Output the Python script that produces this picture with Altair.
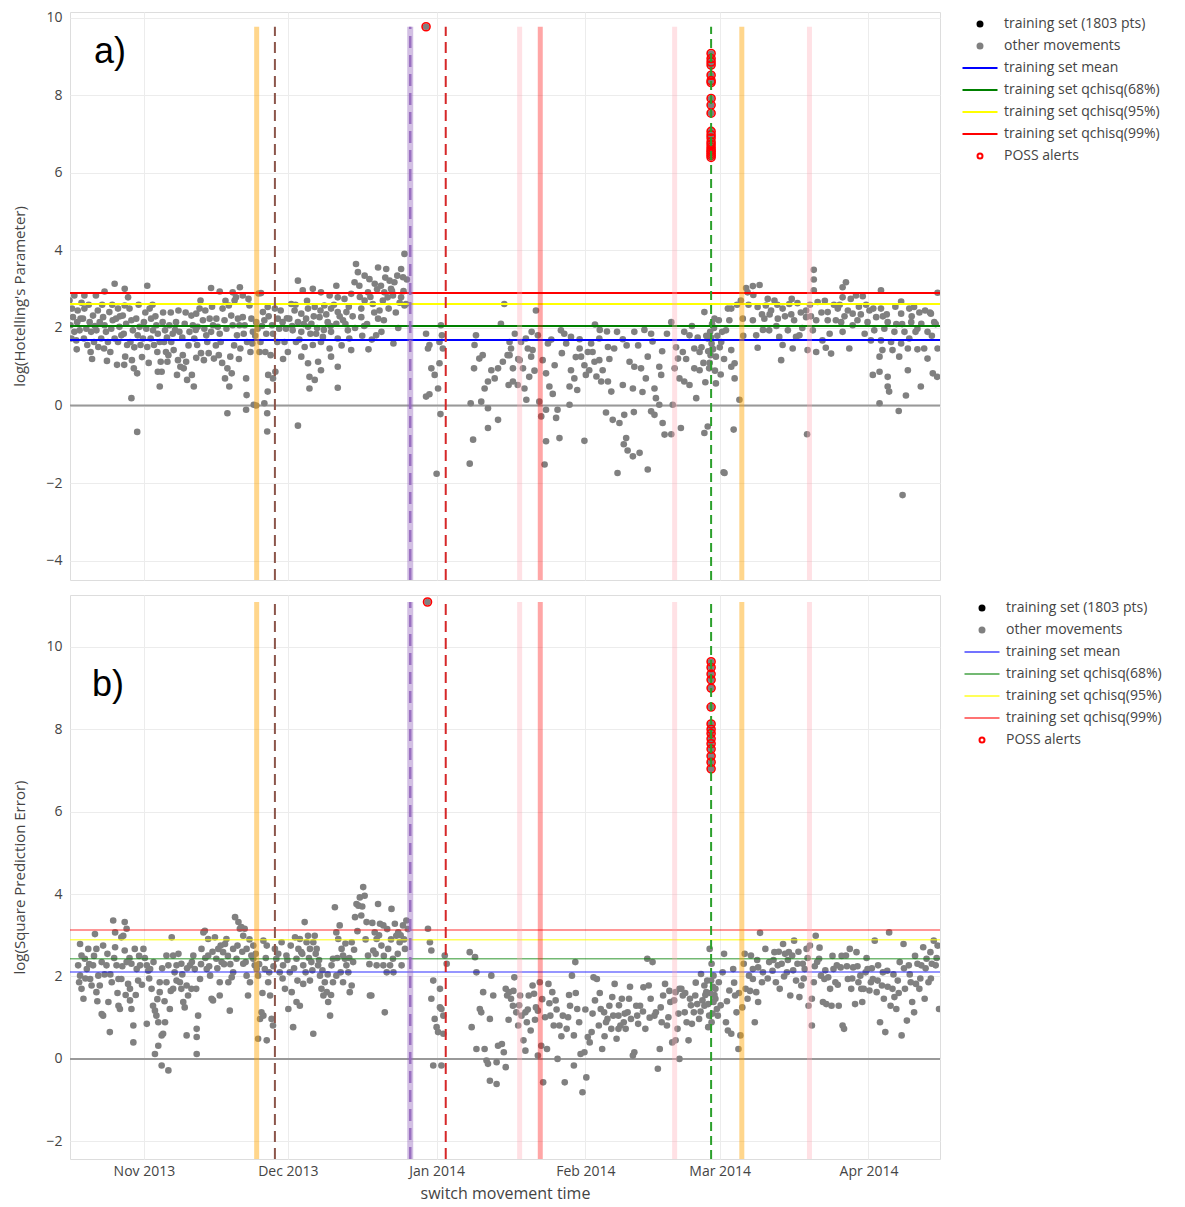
import altair as alt
import pandas as pd

BASE = pd.Timestamp("2013-10-16")
X_START_DAY, X_END_DAY = 0.6, 181.9

SERIES = ["training set (1803 pts)", "other movements", "training set mean",
          "training set qchisq(68%)", "training set qchisq(95%)",
          "training set qchisq(99%)", "POSS alerts"]
THR_SERIES = SERIES[2:6]

# threshold levels (log scale)
a_thr_values = [1.69, 2.05, 2.62, 2.90]
b_thr_values = [2.11, 2.43, 2.89, 3.13]

# event markers (days after 2013-10-16)
ev_orange = [39.5, 140.6]
ev_brown = [43.3]
ev_purple = [71.5]
ev_red = [78.9]
ev_pink = [94.3, 126.6, 154.7]
ev_salmon = [98.6]
ev_green = [134.2]

# POSS alerts (day, value)
a_alerts = [(74.8, 9.77)] + [(134.2, v) for v in
            [9.08, 8.95, 8.86, 8.78, 8.52, 8.38, 8.33, 7.92, 7.75, 7.54, 7.07,
             6.98, 6.90, 6.80, 6.73, 6.66, 6.60, 6.55, 6.50, 6.45, 6.40]]
b_alerts = [(75.1, 11.09)] + [(134.2, v) for v in
            [9.64, 9.50, 9.34, 9.20, 9.00, 8.54, 8.13, 8.00, 7.90, 7.77, 7.65,
             7.52, 7.35, 7.20, 7.04]]

# ---- panel a: log(Hotelling's parameter), (day, value) ----
a_pts_1 = [(0.5,2.71),(1.0,2.50),(1.2,2.28),(0.7,2.07),(1.5,1.90),(0.9,1.73),(2.2,2.45),(2.1,2.15),(2.6,1.94),(1.9,1.68),
(2.8,2.24),(3.6,2.50),(3.3,2.24),(4.0,1.98),(3.5,1.73),(4.2,1.56),(4.7,2.15),(5.4,2.32),(5.0,1.90),(5.6,1.64),
(4.9,1.38),(6.4,2.45),(6.8,2.15),(6.1,1.94),(7.1,1.73),(6.5,1.51),(7.5,2.28),(7.8,2.07),(8.1,1.90),(8.5,1.64),
(7.7,1.47),(8.8,2.41),(9.5,2.20),(9.2,1.98),(9.9,1.73),(9.0,1.38),(10.6,2.50),(10.2,2.24),(10.9,2.03),(11.3,1.81),
(10.6,1.64),(12.0,2.58),(11.6,2.32),(12.3,2.11),(11.8,1.85),(12.5,1.56),(12.1,1.26),(13.0,2.50),(13.4,2.20),(13.7,1.94),
(13.2,1.64),(13.5,1.17),(13.9,0.96),(14.4,2.24),(15.1,2.03),(14.7,1.81),(15.3,1.56),(14.6,0.83),(16.0,2.15),(16.5,1.98),
(15.8,1.73),(16.7,1.51),(17.2,2.50),(17.5,2.24),(17.9,1.94),(17.4,1.73),(18.1,1.56),(18.6,2.07),(18.9,1.85),(19.3,1.64),
(18.8,1.38),(19.5,1.13),(18.9,0.87),(19.3,0.49),(19.9,2.15),(20.4,1.94),(20.2,1.64),(20.6,1.38),(20.9,1.13),(19.7,0.87),
(21.3,2.07),(22.0,1.85),(21.7,1.64),(22.2,1.43),(21.1,1.30),(22.7,2.15),(23.4,1.90),(23.1,1.17),(23.6,1.00),(22.9,0.79),
(24.5,2.11),(24.1,1.30),(24.8,1.13),(25.0,0.66),(24.3,0.96),(25.9,2.32),(26.2,2.07),(25.5,1.90),(26.0,0.79),(26.4,0.49),
(26.5,1.73),(26.9,2.37),(27.6,2.50),(27.2,2.03),(27.1,1.56),(26.9,1.23),(28.3,2.20),(28.6,1.98),(29.0,1.81),(28.5,1.17),
(29.2,1.64),(29.7,2.24),(30.4,2.07),(30.0,1.90),(30.6,1.21),(31.1,2.24),(31.4,2.03),(31.8,1.85),(31.6,1.30),(32.0,1.64),
(32.4,2.50),(32.8,2.20),(33.2,1.98),(33.4,0.96),(32.9,0.70),(33.4,-0.20),(33.7,2.58),(34.2,2.32),(34.5,2.07),(34.0,1.26),
(34.3,0.83),(33.8,0.49),(35.2,2.79),(35.6,2.24),(35.9,2.07),(36.1,1.47),(35.4,1.81),(36.6,2.28),(37.0,2.07),(37.5,1.64),
(37.3,0.70),(37.4,0.27),(37.3,-0.11),(38.0,2.58),(38.4,2.24),(38.7,1.90),(38.2,1.38),(38.9,0.02),(39.4,2.15),(39.7,1.98),
(40.3,1.64),(40.1,1.38),(39.9,2.89),(40.8,2.41),(41.1,2.20),(41.5,1.85),(41.3,1.38),(41.1,0.06),(41.7,-0.20),(41.8,2.54),
(42.7,2.07),(42.4,1.30),(41.9,0.79),(41.8,0.36),(42.9,0.70),(43.3,2.50),(43.9,2.24),(44.2,1.98),(43.8,1.64),(43.4,0.87),
(44.9,2.15),(45.6,1.98),(45.3,1.64),(46.0,1.38),(9.9,3.14),(16.7,3.09),(12.0,3.01),(7.8,2.94),(6.0,2.84),(3.6,2.84),
(1.5,2.84),(12.7,2.79),(30.0,3.03),(31.8,2.94),(36.0,3.05),(34.5,2.92),(40.4,2.90),(36.6,2.84),(27.8,2.71),(34.9,2.71),
(13.4,0.19),(14.6,-0.68),(39.4,0.00),(41.7,-0.67),
(2.0,1.45),(3.0,2.65),(4.5,2.60),(5.2,1.20),(5.8,2.05),(7.3,2.60),(8.3,1.15),(9.4,2.60),(10.4,1.05),(11.0,2.30),
(11.9,1.05),(14.0,1.50),(14.9,2.60),(15.6,1.25),(16.3,2.40),(17.0,1.10),(17.8,2.60),(18.4,2.30),(20.0,2.40),(20.8,1.75),
(21.6,2.40),(22.5,1.95),(23.2,2.45),(24.0,1.75),(24.7,2.40),(25.3,1.55),(26.8,1.95),(27.9,1.35),(28.8,2.45),(29.5,1.35),
(30.2,2.55),(31.0,1.55),(32.3,1.10),(33.0,2.70),(34.8,1.55),(35.8,1.20),(36.8,1.85),(37.8,2.75),(38.6,1.60),(39.2,1.80),
(40.6,2.05),(42.0,2.30),(42.9,1.85),(44.5,2.45),(45.0,1.20),(45.8,2.25)]

a_pts_2 = [(70.3,3.91),(60.2,3.65),(64.8,3.56),(66.5,3.52),(60.6,3.44),(62.0,3.35),(63.0,3.26),(59.9,3.18),(60.9,3.09),(64.1,3.14),
(65.4,3.09),(67.2,3.22),(68.2,3.18),(69.6,3.52),(70.0,3.31),(67.5,3.01),(59.2,2.88),(62.7,2.92),(66.8,2.79),(62.0,2.71),
(63.7,2.62),(61.3,2.50),(65.1,2.45),(64.8,2.24),(70.3,2.58),(69.6,2.79),(61.3,2.28),(65.8,2.71),(67.9,2.84),(66.1,2.92),
(48.1,3.22),(49.1,2.97),(51.2,3.01),(52.9,2.92),(56.1,3.09),(54.7,2.84),(56.4,2.79),(57.8,2.75),(46.7,2.62),(47.4,2.45),
(48.8,2.37),(50.2,2.50),(51.6,2.54),(53.6,2.58),(55.0,2.50),(56.4,2.41),(58.2,2.41),(46.3,2.24),(48.1,2.15),(49.8,2.24),
(50.9,2.11),(52.6,2.28),(54.3,2.15),(56.1,2.11),(57.5,2.20),(58.5,1.94),(58.8,1.73),(47.0,1.94),(48.8,1.90),(50.2,2.03),
(51.9,1.85),(53.3,1.77),(55.0,1.90),(56.4,1.73),(47.7,1.64),(49.5,1.51),(51.2,1.56),(52.9,1.64),(54.7,1.47),(59.2,1.43),
(48.8,1.26),(50.2,1.09),(52.3,1.13),(52.9,0.91),(55.0,1.26),(56.4,1.00),(50.5,0.74),(51.6,0.66),(50.5,0.44),(56.4,0.46),
(48.1,-0.52),(64.4,1.81),(60.0,2.00),(61.5,1.80),(62.5,2.10),(63.5,1.70),(66.0,2.20),(68.5,2.40),(69.0,2.00),(68.0,1.60),
(65.5,1.90),(62.8,1.45),(70.6,2.62),
(46.9,2.05),(47.6,2.60),(48.4,1.70),(49.3,2.10),(50.0,2.70),(50.7,1.85),(51.4,2.30),(52.1,2.00),(52.8,2.45),(53.5,1.95),
(54.0,2.35),(54.9,2.05),(55.6,2.60),(56.8,2.30),(57.2,1.55),(58.0,2.10),(58.7,2.55),(59.5,2.30),(61.0,2.80),(61.9,2.05),
(63.2,2.80),(64.0,2.40),(64.6,3.00),(66.3,3.30),(67.0,2.50),(67.7,2.95),(68.8,3.35),(69.3,2.65),(70.1,2.95),(70.8,3.25),
(74.8,1.85),(75.5,1.56),(75.2,1.47),(75.9,0.96),(76.6,0.79),(77.6,1.09),(77.9,2.07),(78.1,1.81),(77.6,1.64),(78.3,1.47),
(77.3,0.44),(74.8,0.23),(75.5,0.29),(77.8,-0.22),(85.2,1.81),(84.9,1.56),(85.9,1.21),(84.8,0.96),(86.6,1.30),(87.7,0.62),
(88.4,0.91),(89.8,0.96),(90.4,2.11),(91.1,2.62),(90.8,1.13),(91.8,1.30),(89.1,0.70),(87.0,0.44),(86.3,0.10),(84.1,0.06),
(87.7,-0.07),(89.8,-0.37),(87.7,-0.58),(92.0,0.53),(77.0,-1.76),(83.9,-1.50),(84.6,-0.88)]

a_pts_3 = [(97.7,2.45),(125.9,2.15),(110.0,2.09),(102.9,1.94),(103.6,1.85),(105.0,1.77),(106.8,1.71),(112.5,1.91),(118.2,1.90),(121.7,1.85),
(115.8,1.71),(110.9,1.73),(112.7,1.51),(114.0,1.47),(106.8,1.47),(108.5,1.38),(109.5,1.38),(100.2,1.60),(98.1,1.81),(95.6,1.73),
(96.0,1.47),(96.7,1.26),(92.5,1.47),(92.2,1.30),(92.9,0.96),(95.0,0.96),(93.9,0.53),(95.7,0.15),(96.3,0.74),(99.1,1.17),
(99.8,0.83),(100.5,0.49),(101.6,1.04),(105.0,0.91),(105.7,0.70),(104.7,0.49),(104.7,0.02),(107.1,1.26),(107.8,1.04),(108.8,0.91),
(108.1,0.79),(109.9,1.13),(110.9,1.17),(111.6,0.91),(112.7,0.62),(111.3,0.62),(113.4,0.36),(115.8,0.53),(117.9,0.44),(117.2,1.13),
(118.2,1.00),(119.6,0.96),(121.0,1.26),(120.6,0.70),(122.4,0.44),(123.4,1.00),(123.8,0.79),(122.7,0.19),(123.4,0.02),(126.6,0.96),
(127.3,1.21),(128.3,1.38),(127.6,0.70),(128.6,0.62),(129.7,0.53),(128.6,1.90),(129.7,1.81),(130.7,1.47),(131.8,1.38),(130.7,0.96),
(131.8,0.91),(131.1,0.19),(126.2,0.02),(127.9,-0.58),(124.5,-0.75),(125.9,-0.74),(122.4,-0.24),(121.7,-0.15),(124.1,-0.45),(115.1,-0.45),
(116.1,-0.24),(112.3,-0.18),(113.7,-0.37),(118.1,-0.17),(116.5,-0.84),(116.0,-1.00),(116.8,-1.16),(117.9,-1.31),(119.3,-1.22),(114.7,-1.74),
(121.0,-1.65),(107.8,-0.91),(102.6,-0.84),(101.9,-0.32),(102.2,-0.11),(99.8,-0.92),(99.5,-1.52),(98.8,-0.28),(98.4,0.10),(99.8,-0.11),
(132.8,-0.71),(133.5,-0.54),(137.0,-1.74),(133.5,1.73),(132.8,2.41),(134.9,2.24),(134.5,1.47),(135.2,1.26),(136.3,1.64),(137.3,1.94),
(137.7,2.50),(135.2,0.57),(133.8,0.96),(94.6,1.64),(97.0,1.43),(94.3,1.17),(95.3,0.44),(92.9,0.62),(92.2,1.64),
(134.0,1.90),(134.3,1.60),(134.1,1.30),(133.9,1.10),(134.4,2.10),(134.2,1.75),(134.6,1.45),(134.8,2.00),(135.5,1.80),(135.8,2.20),
(136.0,1.50),(136.5,1.90),(136.9,1.20),(133.6,1.40),(133.2,1.80),(132.6,1.10),(135.0,0.90),(136.2,0.80),
(93.3,1.85),(94.0,1.20),(96.8,1.90),(97.4,0.90),(100.9,1.70),(101.2,0.30),(103.1,1.35),(104.0,1.60),(106.0,1.25),(106.3,0.40),
(109.2,1.60),(110.3,0.75),(111.0,1.95),(113.0,1.20),(114.6,1.90),(116.6,1.55),(119.0,1.55),(119.9,0.35),(120.3,1.95),(122.0,1.65),
(124.0,1.40),(125.0,1.85),(126.9,1.50),(129.0,1.20),(130.2,2.05),(131.4,1.75),(132.2,1.50),(133.0,0.60)]

a_pts_4 = [(155.6,3.50),(155.6,3.25),(155.6,2.97),(162.3,3.18),(161.6,3.05),(144.3,3.11),(142.9,3.08),(141.5,3.03),(141.8,2.92),(140.4,2.71),
(169.6,2.97),(173.8,2.68),(181.4,2.91),(161.6,2.79),(164.4,2.84),(165.8,2.82),(147.4,2.71),(150.5,2.62),(152.2,2.64),(156.4,2.67),
(143.9,2.54),(145.6,2.58),(146.7,2.45),(149.1,2.50),(154.0,2.45),(158.5,2.41),(160.6,2.50),(162.7,2.45),(163.7,2.37),(169.6,2.50),
(175.5,2.50),(176.5,2.54),(180.0,2.37),(142.9,2.20),(145.3,2.24),(148.1,2.24),(151.5,2.20),(154.0,2.28),(156.1,2.20),(158.5,2.20),
(161.3,2.15),(164.7,2.20),(166.8,2.15),(168.6,2.28),(171.0,2.15),(173.8,2.37),(175.9,2.15),(178.0,2.11),(180.7,2.15),(138.4,2.50),
(138.0,2.20),(140.8,2.24),(146.3,1.94),(150.2,1.94),(152.6,1.81),(155.4,1.94),(161.6,1.90),(163.7,2.07),(168.2,1.94),(170.3,1.98),
(172.4,1.90),(174.5,1.90),(177.2,1.98),(179.3,1.90),(143.6,1.81),(148.4,1.77),(151.9,1.77),(157.4,1.68),(167.5,1.68),(169.6,1.68),
(171.7,1.64),(173.8,1.60),(175.5,1.73),(149.1,1.56),(151.2,1.47),(154.3,1.43),(156.1,1.38),(158.1,1.49),(159.2,1.34),(163.0,1.47),
(169.9,1.43),(172.0,1.43),(175.2,1.47),(177.2,1.45),(178.6,1.47),(181.4,1.47),(143.9,1.49),(138.4,1.43),(148.8,1.17),(169.3,1.26),
(173.4,1.26),(179.3,1.21),(139.1,1.09),(138.4,1.00),(139.1,0.70),(167.9,0.79),(169.3,0.87),(171.0,0.74),(171.0,0.49),(171.3,0.36),
(175.2,0.91),(177.9,0.49),(180.4,0.83),(181.3,0.74),(169.3,0.06),(174.8,0.26),(173.3,-0.14),(140.1,0.15),(138.9,-0.62),(154.2,-0.74),
(174.1,-2.31),(136.8,-1.72),
(142.0,2.60),(144.8,2.35),(146.0,2.75),(147.8,2.05),(149.6,2.30),(151.0,2.75),(153.2,2.00),(154.8,2.60),(157.2,2.40),(158.9,1.85),
(159.8,2.60),(162.0,2.30),(165.0,2.55),(166.2,1.85),(167.2,2.45),(170.8,2.35),(172.8,2.10),(176.0,2.30),(178.8,2.45),(180.2,1.80),
(139.6,2.60),(140.9,1.80),(143.0,2.85),(145.0,1.95),(146.4,2.35),(148.0,2.60),(150.9,2.35),(152.9,2.40),(155.0,2.30),(157.9,2.70),
(160.2,2.20),(161.0,2.60),(163.3,2.75),(165.4,2.35),(166.5,2.60),(168.0,2.50),(170.0,2.30),(172.6,2.55),(174.0,2.10),(176.8,1.90),
(177.6,2.40),(179.8,2.40),(181.0,2.10)]

# ---- panel b: log(Square Prediction Error), (day, value) ----
b_pts_1 = [(2.7,2.79),(3.0,2.51),(2.3,2.27),(2.7,2.02),(2.5,1.86),(3.0,1.70),(3.4,1.46),(3.7,2.43),(4.1,2.18),(4.4,2.67),
(4.8,1.94),(5.1,1.78),(5.4,2.27),(5.8,3.03),(6.1,2.67),(6.5,2.02),(6.8,1.78),(6.1,1.62),(7.2,2.35),(7.5,2.75),
(7.2,1.09),(8.2,2.27),(8.9,0.65),(9.6,3.36),(10.0,2.71),(10.3,2.27),(10.7,1.29),(11.0,1.21),(11.3,2.95),(11.7,2.99),
(12.0,2.63),(12.4,2.35),(12.7,1.82),(13.1,1.70),(13.4,1.21),(13.8,0.40),(13.8,0.81),(12.4,3.16),(12.0,3.32),(13.4,2.31),
(10.0,3.07),(10.7,1.94),(9.3,1.86),(8.6,1.38),(7.5,1.05),(11.3,1.94),(13.1,1.42),(14.1,2.67),(14.5,2.18),(14.8,1.90),
(15.2,2.27),(15.9,2.67),(16.6,2.27),(16.6,0.85),(16.9,2.14),(17.3,2.18),(17.6,1.70),(17.9,1.29),(18.3,1.17),(18.6,1.05),
(19.0,0.89),(19.3,1.62),(19.7,0.57),(20.0,0.61),(20.4,0.89),(20.7,2.51),(21.1,2.27),(19.7,-0.16),(21.1,-0.28),(18.3,0.12),
(19.0,0.32),(19.3,1.86),(20.7,1.86),(21.4,1.21),(21.8,2.95),(22.1,2.51),(22.8,2.27),(23.5,1.86),(23.8,2.31),(24.2,1.38),
(24.5,1.25),(24.9,0.57),(25.2,1.54),(25.6,2.27),(25.9,1.70),(26.3,2.51),(26.6,2.18),(27.0,0.73),(27.3,1.05),(27.7,1.94),
(27.0,0.12),(27.0,0.53),(24.9,1.78),(23.8,1.70),(22.8,1.90),(22.1,1.70),(28.0,2.67),(28.4,3.07),(28.7,3.11),(29.1,2.18),
(29.4,2.91),(29.8,2.02),(30.1,1.46),(30.4,1.42),(30.8,2.95),(31.1,2.43),(31.5,2.67),(31.8,1.86),(32.2,2.35),(32.5,2.59),
(32.9,2.79),(33.2,2.91),(33.9,1.17),(33.6,1.86),(34.3,1.98),(34.6,2.67),(34.6,2.10),(31.8,1.54),(29.4,2.51),(35.0,3.44),
(35.7,3.32),(36.0,3.16),(36.3,3.20),(36.7,2.99),(37.0,3.16),(37.4,2.67),(37.7,1.54),(38.1,1.86),(38.4,2.51),(38.8,2.75),
(39.1,2.27),(39.5,2.18),(39.8,2.02),(37.4,2.02),(35.3,2.43),(38.8,2.43),(36.7,2.31),(39.8,0.49),(40.2,0.97),(40.5,1.13),
(40.9,2.87),(41.2,2.18),(41.6,2.75),(41.9,1.86),(42.3,1.54),(42.6,0.97),(42.9,0.81),(41.6,0.45),(40.9,1.05),(43.3,2.67),
(43.6,2.43),(44.3,2.10),(44.7,2.83),(45.0,2.27),(45.4,1.70),(45.7,2.51),(46.1,1.21),(46.4,2.10),(47.1,0.77),(46.8,1.62),
(3.8,1.95),(4.6,2.30),(5.6,2.50),(6.3,1.40),(7.8,2.05),(8.4,2.55),(9.0,2.05),(9.8,2.45),(10.5,1.60),(11.5,2.25),
(12.2,1.55),(13.0,2.45),(14.3,1.55),(15.0,2.50),(15.6,1.80),(16.2,2.45),(17.1,1.95),(18.0,2.35),(18.8,1.45),(19.8,2.20),
(20.3,1.40),(21.6,1.65),(22.4,2.10),(23.2,2.55),(24.0,2.05),(25.0,2.20),(26.0,2.35),(26.9,1.70),(27.9,2.30),(28.8,2.45),
(29.6,2.25),(30.3,2.60),(31.3,2.20),(32.0,2.75),(32.7,2.30),(33.5,2.50),(34.0,2.30),(35.5,2.75),(36.5,2.60),(37.2,2.35),
(38.0,2.90),(39.3,2.55),(40.0,2.30),(40.7,1.60),(41.4,2.45),(42.1,2.10),(43.0,2.25),(44.0,2.55),(44.9,1.95),(45.9,2.40)]

b_pts_2 = [(47.5,2.95),(47.8,2.43),(48.2,2.67),(48.5,2.91),(48.8,2.59),(49.2,2.27),(49.5,3.32),(49.9,2.83),(50.2,2.99),(50.6,2.67),
(50.9,2.35),(51.3,2.83),(51.6,2.99),(52.0,2.67),(52.3,2.27),(52.7,2.02),(53.0,1.70),(53.4,1.54),(53.7,1.86),(54.1,1.62),
(54.4,1.38),(54.8,1.05),(55.1,2.27),(55.4,2.43),(51.3,0.61),(50.6,1.90),(49.2,1.82),(48.5,1.29),(47.8,1.38),(55.8,3.68),
(56.1,3.07),(56.5,2.91),(56.8,3.24),(57.2,2.67),(57.5,2.51),(57.9,2.43),(58.2,2.27),(58.6,2.10),(58.9,1.62),(59.3,2.83),
(59.6,2.35),(60.0,3.44),(60.3,3.76),(60.7,3.72),(61.0,3.92),(61.3,3.48),(61.7,4.17),(62.0,3.96),(62.4,3.32),(59.3,1.78),
(57.5,1.86),(56.1,2.02),(55.4,1.86),(62.7,2.51),(63.1,1.54),(63.4,1.54),(63.8,2.63),(64.1,3.07),(64.5,2.91),(64.8,3.76),
(65.2,3.28),(65.5,2.75),(65.9,2.27),(66.2,1.13),(66.6,2.10),(66.9,2.67),(67.3,2.27),(67.6,3.64),(67.9,2.43),(68.3,3.28),
(68.6,2.99),(69.0,3.07),(69.3,2.83),(69.7,2.27),(70.0,3.24),(70.4,2.67),(70.7,3.36),(64.5,2.27),(65.9,3.24),
(46.6,2.75),(47.3,2.20),(48.0,1.90),(49.0,2.55),(49.7,2.10),(50.4,2.45),(51.1,2.15),(51.8,2.55),(52.5,2.40),(53.2,2.15),
(54.3,2.05),(55.0,1.55),(56.3,2.45),(57.0,2.10),(58.0,2.80),(58.8,2.45),(59.8,2.65),(60.5,3.10),(61.5,3.70),(62.2,2.90),
(63.0,2.30),(63.6,3.30),(64.3,2.55),(65.0,3.00),(66.0,2.50),(66.7,3.15),(67.5,2.90),(68.0,2.10),(68.9,2.55),(69.5,3.00),
(70.2,2.90),(71.0,3.15),
(75.2,3.16),(75.6,2.83),(75.9,2.63),(76.3,1.90),(75.9,1.46),(76.6,0.97),(77.0,0.77),(77.3,0.65),(77.7,1.70),(78.0,1.21),
(78.4,0.61),(78.7,2.51),(79.1,2.31),(76.3,-0.16),(78.0,-0.16),(78.4,1.05),(77.7,1.25),(83.9,2.59),(84.3,0.77),(85.0,2.47),
(85.3,2.10),(86.0,1.21),(86.3,1.13),(86.7,1.62),(87.0,0.24),(87.4,-0.04),(87.7,-0.12),(88.1,0.97),(88.4,2.02),(88.8,1.54),
(89.5,-0.08),(89.8,0.32),(88.1,-0.53),(89.5,-0.61),(85.3,0.24)]

b_pts_3 = [(90.6,0.36),(91.4,-0.20),(91.0,0.16),(91.4,1.70),(91.7,1.54),(92.1,1.62),(92.5,1.46),(92.9,1.29),(93.2,1.98),(93.6,1.13),
(94.0,0.81),(94.4,1.54),(94.7,1.05),(95.1,0.45),(95.5,0.20),(95.8,0.89),(96.2,1.54),(96.6,0.69),(97.0,1.78),(97.3,1.58),
(97.7,1.25),(98.1,0.08),(98.5,1.86),(98.8,0.32),(99.2,-0.57),(99.6,1.01),(100.0,0.24),(100.3,1.82),(100.7,1.05),(101.1,1.62),
(101.4,0.81),(101.8,1.42),(102.2,0.00),(98.1,1.17),(95.5,1.13),(103.3,1.05),(103.7,-0.57),(104.4,1.01),(105.2,2.02),(105.6,-0.16),
(105.9,2.35),(106.3,1.21),(106.7,0.89),(107.0,0.12),(107.4,-0.81),(107.8,0.16),(108.2,-0.45),(104.8,1.29),(105.6,0.57),(102.6,0.81),
(104.1,0.73),(108.5,0.53),(108.9,0.40),(109.3,0.65),(109.7,1.98),(110.0,1.42),(110.4,1.94),(110.8,0.81),(111.2,1.21),(111.5,0.24),
(111.9,1.13),(112.3,0.89),(112.6,0.97),(113.0,1.29),(113.4,0.73),(113.8,1.05),(114.1,1.82),(114.5,0.49),(114.9,1.05),(115.3,0.81),
(115.6,1.46),(116.0,0.89),(116.4,0.73),(116.8,1.13),(117.1,1.46),(117.5,0.97),(117.9,0.08),(118.2,0.16),(118.6,1.29),(119.0,0.85),
(114.9,0.73),(119.4,1.29),(120.1,1.74),(120.5,0.73),(120.9,2.43),(121.2,1.78),(121.6,1.46),(122.0,2.35),(122.4,1.05),(122.7,1.13),
(123.1,-0.24),(123.5,0.24),(123.9,0.89),(124.2,1.54),(124.6,1.82),(125.0,0.81),(125.3,1.01),(125.7,1.38),(126.1,0.40),(126.5,1.42),
(126.8,1.62),(127.2,0.73),(127.6,0.00),(126.8,0.45),(127.6,1.70),(128.0,1.70),(128.3,1.54),(128.7,1.13),(129.1,0.89),(129.5,0.45),
(129.8,1.46),(130.2,0.85),(130.6,1.13),(130.9,1.54),(131.3,1.33),(131.7,0.97),(132.1,2.06),(132.4,1.42),(132.8,1.78),(133.2,1.62),
(133.6,1.33),(133.9,2.67),(134.3,2.31),(134.7,2.02),(135.1,1.46),(135.4,1.21),(135.8,1.86),(133.6,0.77),(134.3,0.89),(134.7,1.38),
(135.1,1.70),(132.8,1.29),(134.0,1.60),(134.5,1.10),(134.2,1.90),(134.9,1.55),(133.8,1.05),(134.6,1.75),(135.6,1.05),(136.2,1.30),
(136.6,2.10),(133.4,1.90),
(92.0,0.95),(93.0,1.65),(94.2,1.30),(96.0,1.20),(97.5,0.95),(99.0,1.45),(100.5,1.35),(102.0,1.20),(103.0,0.55),(104.6,1.55),
(106.0,1.60),(108.0,1.20),(109.5,1.10),(111.0,1.60),(112.0,0.55),(113.6,1.50),(115.0,1.30),(116.2,1.10),(117.3,1.75),(118.8,1.05),
(120.0,1.15),(121.4,1.00),(123.7,1.25),(125.5,1.65),(127.4,1.10),(128.8,1.60),(130.0,1.30),(131.0,1.85),(132.0,1.15),(133.0,1.55)]

b_pts_4 = [(136.9,2.55),(137.3,0.89),(137.7,0.69),(138.0,1.66),(138.4,0.61),(138.8,2.18),(139.2,1.54),(139.5,1.13),(139.9,0.24),(140.3,0.57),
(140.7,1.25),(141.0,2.31),(141.4,1.70),(141.8,1.46),(142.1,2.02),(142.5,2.51),(142.9,2.18),(143.3,0.89),(143.6,1.62),(144.0,1.38),
(144.4,3.06),(144.8,1.86),(144.0,2.22),(142.9,1.94),(145.5,2.67),(146.3,2.35),(147.0,2.14),(147.4,2.59),(147.7,1.86),(148.1,2.27),
(148.5,1.70),(148.9,2.31),(149.2,2.79),(149.6,2.55),(150.0,2.10),(150.4,2.59),(150.7,1.54),(151.1,2.51),(151.5,2.87),(151.9,1.90),
(152.2,2.31),(152.6,1.50),(153.0,1.78),(153.3,2.31),(153.7,2.18),(154.1,2.67),(154.5,1.29),(154.8,2.75),(155.2,0.81),(155.6,1.86),
(156.0,2.99),(156.3,2.35),(156.7,2.43),(157.1,2.02),(157.5,1.38),(157.8,1.94),(158.2,1.33),(155.2,1.46),(158.6,1.98),(159.0,1.70),
(159.3,1.29),(159.7,2.18),(160.1,1.86),(160.4,2.27),(160.8,1.29),(161.2,2.22),(161.6,0.81),(161.9,0.73),(162.3,2.51),(162.7,1.94),
(163.1,2.67),(163.4,1.70),(163.8,2.22),(164.2,1.33),(164.5,2.59),(164.9,1.86),(165.3,2.02),(165.7,1.38),(166.0,1.70),(166.4,2.10),
(166.8,2.18),(167.2,1.66),(167.5,1.86),(167.9,1.94),(168.3,2.87),(168.7,1.62),(169.0,2.27),(169.4,0.89),(169.8,1.78),(170.2,1.46),
(170.5,0.65),(170.9,2.14),(171.3,3.07),(171.6,1.29),(172.0,1.70),(172.4,1.50),(172.8,1.21),(173.1,1.90),(173.5,2.35),(173.9,0.57),
(174.3,2.79),(174.6,1.70),(175.0,0.93),(175.4,2.27),(175.8,1.86),(176.1,1.38),(176.5,1.13),(176.9,1.82),(177.2,2.31),(177.6,1.70),
(178.0,2.27),(178.4,2.71),(178.7,1.46),(179.1,2.43),(179.5,1.86),(179.9,2.59),(180.2,2.31),(180.6,2.87),(181.0,2.27),(181.4,2.75),
(181.7,1.21),
(137.5,1.40),(139.0,1.85),(140.0,1.60),(141.2,2.55),(142.3,1.65),(143.8,2.40),(145.0,2.10),(146.0,1.95),(147.2,2.40),(148.3,2.60),
(149.4,2.00),(150.2,2.40),(151.3,2.15),(152.4,2.60),(153.5,1.95),(154.3,2.45),(155.8,2.25),(156.8,2.70),(158.0,2.15),(159.5,2.50),
(160.6,1.80),(161.4,2.50),(162.5,2.25),(163.6,1.95),(164.7,2.25),(165.5,1.70),(166.6,2.45),(167.7,2.20),(168.9,1.90),(170.0,2.10),
(171.0,1.75),(172.2,2.05),(173.3,1.60),(174.4,2.20),(175.6,2.05),(176.7,2.50),(177.8,1.95),(178.9,2.20),(180.0,1.95),(181.2,2.45)]

month_ticks = [(2013, 11), (2013, 12), (2014, 1), (2014, 2), (2014, 3), (2014, 4)]

# ---------------------------------------------------------------- helpers
FONT = "Open Sans"
TXT = "#444444"
GRID = "#ececec"
LINE_SYM = "M-7,0L7,0"
SHAPES = ["circle", "circle", LINE_SYM, LINE_SYM, LINE_SYM, LINE_SYM, "circle"]


def to_time(days):
    return [BASE + pd.Timedelta(days=d) for d in days]


def pts_frame(pairs, series):
    df = pd.DataFrame(pairs, columns=["day", "value"])
    df["time"] = to_time(df["day"])
    df["series"] = series
    return df


def dt(day):
    t = BASE + pd.Timedelta(days=day)
    return alt.DateTime(year=t.year, month=t.month, date=t.day, hours=t.hour, minutes=t.minute)


x_scale = alt.Scale(domain=[dt(X_START_DAY), dt(X_END_DAY)])
x_values = [alt.DateTime(year=y, month=m, date=1) for y, m in month_ticks]


def build_panel(pts, alerts, thr_vals, ydom, yticks, ytitle, stroke_rng, thr_width,
                show_x, label, legend_xy, label_xy, height):
    pts_df = pts_frame(pts + alerts, "other movements")
    al_df = pts_frame(alerts, "POSS alerts")
    thr_df = pd.DataFrame({"value": thr_vals, "series": THR_SERIES})
    zero_df = pd.DataFrame({"value": [0.0]})
    ytop = max(v for _, v in alerts)

    if show_x:
        x_axis = alt.Axis(values=x_values, format="%b %Y", labelFont=FONT, labelFontSize=14,
                          labelColor=TXT, ticks=False, domain=False, grid=True, gridColor=GRID,
                          labelPadding=5, titleFont=FONT, titleFontSize=16,
                          titleFontWeight="normal", titleColor=TXT, titlePadding=7)
        x_title = "switch movement time"
    else:
        x_axis = alt.Axis(values=x_values, labels=False, ticks=False, domain=False, grid=True,
                          gridColor=GRID)
        x_title = None
    y_axis = alt.Axis(values=yticks, labelFont=FONT, labelFontSize=14, labelColor=TXT,
                      ticks=False, domain=False, grid=True, gridColor=GRID, labelPadding=8,
                      titleFont=FONT, titleFontSize=15, titleFontWeight="normal",
                      titleColor=TXT, titlePadding=18)
    y_scale = alt.Scale(domain=ydom, nice=False, zero=False)

    def X():
        return alt.X("time:T", scale=x_scale, axis=x_axis, title=x_title)

    def Y(field):
        return alt.Y(field, scale=y_scale, axis=y_axis, title=ytitle)

    fill_rng = list(stroke_rng[:6]) + ["rgba(0,0,0,0)"]
    leg = alt.Legend(title=None, orient="none", legendX=legend_xy[0], legendY=legend_xy[1],
                     symbolSize=25, symbolStrokeWidth=2, labelFont=FONT, labelFontSize=14,
                     labelColor=TXT, labelOffset=17, rowPadding=8, padding=0, labelLimit=400)
    stroke_enc = alt.Stroke("series:N", scale=alt.Scale(domain=SERIES, range=stroke_rng), legend=leg)
    fill_enc = alt.Fill("series:N", scale=alt.Scale(domain=SERIES, range=fill_rng), legend=leg)
    shape_enc = alt.Shape("series:N", scale=alt.Scale(domain=SERIES, range=SHAPES), legend=leg)

    zero = alt.Chart(zero_df).mark_rule(color="#999999", strokeWidth=2).encode(y=Y("value:Q"))
    points = alt.Chart(pts_df).mark_point(filled=True, size=44, strokeWidth=0, opacity=1, clip=True).encode(
        x=X(), y=Y("value:Q"), fill=fill_enc, stroke=stroke_enc, shape=shape_enc)
    thr = alt.Chart(thr_df).mark_rule(strokeWidth=thr_width).encode(y=Y("value:Q"), stroke=stroke_enc)
    al = alt.Chart(al_df).mark_point(filled=True, size=64, strokeWidth=1.6, opacity=1, clip=True).encode(
        x=X(), y=Y("value:Q"), fill=fill_enc, stroke=stroke_enc, shape=shape_enc)

    def events(days, color, width, dash=None):
        df = pd.DataFrame({"time": to_time(days), "lo": ydom[0], "hi": ytop})
        kw = dict(color=color, strokeWidth=width)
        if dash:
            kw["strokeDash"] = dash
        return alt.Chart(df).mark_rule(**kw).encode(x=X(), y=Y("lo:Q"), y2="hi:Q")

    ev_layers = [
        events(ev_orange, "rgba(255,165,0,0.45)", 5),
        events(ev_pink, "rgba(255,170,180,0.35)", 5),
        events(ev_salmon, "rgba(255,0,0,0.35)", 5),
        events(ev_purple, "rgba(148,103,189,0.42)", 6),
        events(ev_purple, "rgba(148,103,189,0.9)", 2.5, [12, 7]),
        events(ev_brown, "#8c564b", 2, [11, 6]),
        events(ev_red, "#d62728", 2, [11, 6]),
        events(ev_green, "#2ca02c", 2, [9, 5]),
    ]
    txt = alt.Chart(pd.DataFrame({"label": [label]})).mark_text(
        font="Liberation Sans", fontSize=36, align="left", baseline="alphabetic", color="black"
    ).encode(x=alt.value(label_xy[0]), y=alt.value(label_xy[1]), text="label:N")

    return alt.layer(zero, points, thr, al, *ev_layers, txt).properties(width=870, height=height)


stroke_a = ["#000000", "#808080", "#0000ff", "#008000", "#ffff00", "#ff0000", "#ff0000"]
stroke_b = ["#000000", "#808080", "rgba(0,0,255,0.55)", "rgba(0,128,0,0.55)",
            "rgba(255,255,0,0.65)", "rgba(255,0,0,0.55)", "#ff0000"]

panel_a = build_panel(a_pts_1 + a_pts_2 + a_pts_3 + a_pts_4, a_alerts, a_thr_values,
                      [-4.5, 10.15], [-4, -2, 0, 2, 4, 6, 8, 10], "log(Hotelling's Parameter)",
                      stroke_a, 2, False, "a)", (903, 5), (24, 51), 568)
panel_b = build_panel(b_pts_1 + b_pts_2 + b_pts_3 + b_pts_4, b_alerts, b_thr_values,
                      [-2.43, 11.26], [-2, 0, 2, 4, 6, 8, 10], "log(Square Prediction Error)",
                      stroke_b, 1.5, True, "b)", (905, 6), (22, 101), 564)

chart = alt.vconcat(panel_a, panel_b, spacing=10).resolve_scale(
    x="independent", y="independent", fill="independent", stroke="independent",
    shape="independent"
).resolve_axis(x="independent", y="independent").resolve_legend(
    fill="independent", stroke="independent", shape="independent"
).properties(
    padding={"left": 4, "top": 2, "right": 0, "bottom": 0}
).configure_view(stroke=None).configure(font=FONT, background="white")

chart.save("out.html", embed_options={"renderer": "svg", "actions": False})
